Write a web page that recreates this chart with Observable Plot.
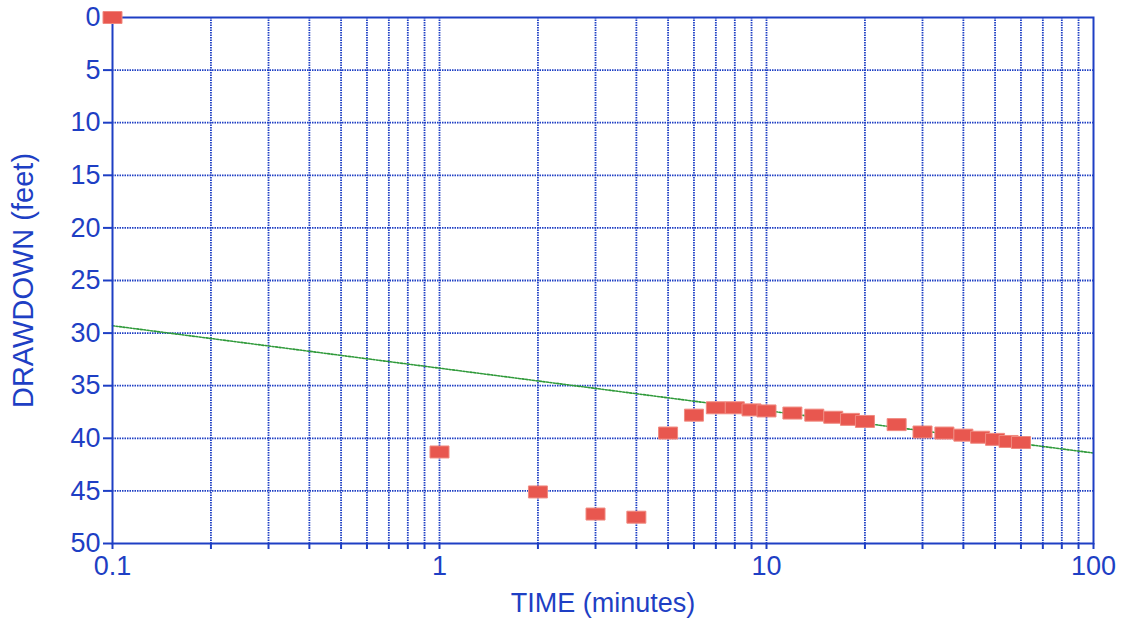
<!DOCTYPE html>
<html><head><meta charset="utf-8">
<script src="https://cdn.jsdelivr.net/npm/d3@7"></script>
<script src="https://cdn.jsdelivr.net/npm/@observablehq/plot@0.6"></script>
<style>body{margin:0;background:#fff;font-family:"Liberation Sans",Arial,sans-serif}</style>
</head><body><div id="chart"></div>
<script>
const time = [0.1, 1, 2, 3, 4, 5, 6, 7, 8, 9, 10, 12, 14, 16, 18, 20, 25, 30, 35, 40, 45, 50, 55, 60];
const drawdown = [0, 41.3, 45.1, 47.2, 47.5, 39.5, 37.8, 37.1, 37.1, 37.3, 37.4, 37.6, 37.8, 38.0, 38.2, 38.4, 38.7, 39.4, 39.5, 39.7, 39.9, 40.1, 40.3, 40.4];
const fitTime = [0.1, 100];
const fitDrawdown = [29.3, 41.4];
const xGrid = [0.2,0.3,0.4,0.5,0.6,0.7,0.8,0.9,1,2,3,4,5,6,7,8,9,10,20,30,40,50,60,70,80,90];
const xTicks = [0.1,0.2,0.3,0.4,0.5,0.6,0.7,0.8,0.9,1,2,3,4,5,6,7,8,9,10,20,30,40,50,60,70,80,90,100];
const xLabels = [0.1, 1, 10, 100];
const yTicks = [0,5,10,15,20,25,30,35,40,45,50];

const blue = "#1e3fc4";
const pts = time.map((t,i)=>({t, d: drawdown[i]}));
const fit = fitTime.map((t,i)=>({t, d: fitDrawdown[i]}));
const rectSym = {draw(ctx){ ctx.rect(-9.5,-6,19,12); }};

const chart = Plot.plot({
  width: 1124, height: 620,
  marginLeft: 112, marginRight: 31, marginTop: 17, marginBottom: 77,
  style: {fontFamily: '"Liberation Sans", Arial, sans-serif', color: blue, background: "#fff"},
  x: {type: "log", domain: [0.1, 100]},
  y: {domain: [0, 50], reverse: true},
  marks: [
    Plot.ruleX(xGrid, {stroke: blue, strokeWidth: 1.8, strokeDasharray: "1.5,1"}),
    Plot.ruleY(yTicks.slice(1, -1), {stroke: blue, strokeWidth: 1.8, strokeDasharray: "1.5,1"}),
    Plot.line(fit, {x: "t", y: "d", stroke: "#2f9a3a", strokeWidth: 1.6, strokeDasharray: "2,1.5"}),
    Plot.frame({stroke: blue, strokeWidth: 2}),
    Plot.axisY({ticks: yTicks, tickSize: 9, tickPadding: 3, fontSize: 27, stroke: blue, fill: blue, strokeWidth: 2,
      label: "DRAWDOWN (feet)", labelArrow: "none", labelAnchor: "center", labelOffset: 100}),
    Plot.axisX({ticks: xTicks, tickSize: 6, tickPadding: 6, fontSize: 27, stroke: blue, fill: blue, strokeWidth: 2,
      tickFormat: d => xLabels.includes(d) ? String(d) : "",
      label: "TIME (minutes)", labelArrow: "none", labelAnchor: "center", labelOffset: 68}),
    Plot.dot(pts, {x: "t", y: "d", symbol: rectSym, fill: "#e8574f", stroke: "#f08a80", strokeWidth: 1})
  ]
});
chart.querySelectorAll('[aria-label="y-axis tick label"], [aria-label="x-axis tick label"]').forEach(g => {
  g.setAttribute("font-size", "27");
  g.style.fontSize = "27px";
});
const labSize = {"y-axis label": 29, "x-axis label": 27};
chart.querySelectorAll('[aria-label="y-axis label"], [aria-label="x-axis label"]').forEach(g => {
  const s = labSize[g.getAttribute("aria-label")];
  g.setAttribute("font-size", s);
  g.style.fontSize = s + "px";
  g.querySelectorAll("text").forEach(t => { t.textContent = t.textContent.replace(/[←→↑↓]\s*|\s*[←→↑↓]/g, ""); t.style.fontSize = s + "px"; });
});
document.getElementById("chart").append(chart);
</script></body></html>
